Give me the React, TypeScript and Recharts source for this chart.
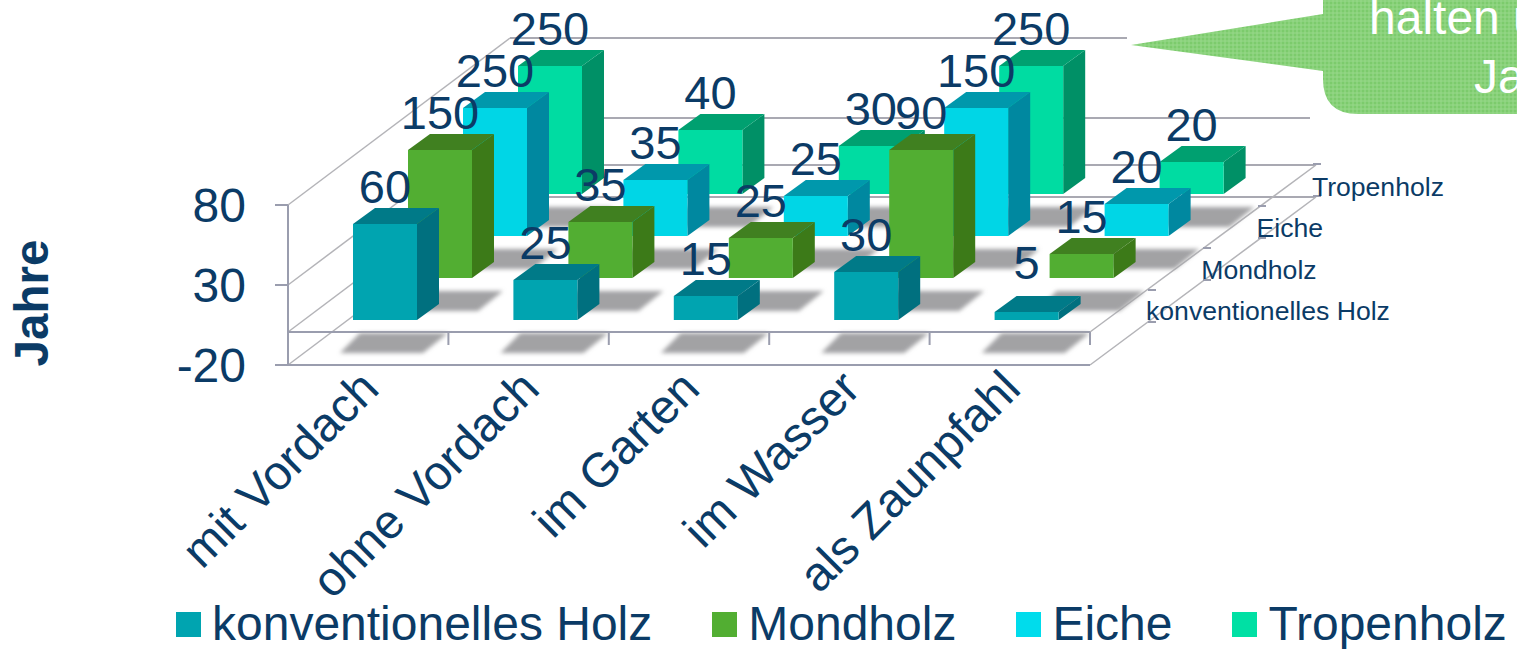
import React from "react";
import { ComposedChart, Bar, XAxis, YAxis, LabelList, Legend, Label, Customized } from "recharts";

const categories = ["mit Vordach", "ohne Vordach", "im Garten", "im Wasser", "als Zaunpfahl"];
const konventionell = [60, 25, 15, 30, 5];
const mondholz = [150, 35, 25, 90, 15];
const eiche = [250, 35, 25, 150, 20];
const tropenholz = [250, 40, 30, 250, 20];
const valueTicks = [-20, 30, 80];
const AXIS_MIN = -20;
const AXIS_MAX = 80;

const rows = categories.map((category, i) => ({
  category,
  konventionell: konventionell[i],
  mondholz: mondholz[i],
  eiche: eiche[i],
  tropenholz: tropenholz[i],
}));

const FONT = "'Liberation Sans', Arial, sans-serif";
const INK = "#0B3B66";
const AXIS = "#9A9DAE";
const THIN = "#B4B4B8";

// front-to-back depth rows
const series = [
  { key: "konventionell", name: "konventionelles Holz", dx: 17, dy: -13, face: "#00A4B0", top: "#007A88", side: "#00707F", swatch: "#00A4B0" },
  { key: "mondholz", name: "Mondholz", dx: 72, dy: -55, face: "#52AE32", top: "#408020", side: "#3C7A18", swatch: "#52AE32" },
  { key: "eiche", name: "Eiche", dx: 127, dy: -97, face: "#00D6E6", top: "#0098AC", side: "#0088A0", swatch: "#00DCEC" },
  { key: "tropenholz", name: "Tropenholz", dx: 182, dy: -139, face: "#00DCA2", top: "#00A070", side: "#009066", swatch: "#00E0A4" },
];

const L = 288, R = 1090, T = 205, B = 365, Z = 332;
const DX = 222, DY = 167;

function Block(props: any) {
  const { x, y, width, height, s } = props;
  const left = x + s.dx;
  const right = left + width;
  const topY = y + s.dy;
  const base = y + height + s.dy;
  const d = 22, e = 16;
  const shadow = [
    [left - 13, base + 33],
    [left + 70, base + 33],
    [left + 95, base + 13],
    [left + 7, base + 13],
  ].map((p) => p.join(",")).join(" ");
  return (
    <g>
      <polygon points={shadow} fill="#A2A2A4" filter="url(#soft)" />
      <polygon points={`${right},${topY} ${right + d},${topY - e} ${right + d},${base - e} ${right},${base}`} fill={s.side} />
      <polygon points={`${left},${topY} ${left + d},${topY - e} ${right + d},${topY - e} ${right},${topY}`} fill={s.top} />
      <rect x={left} y={topY} width={width} height={height} fill={s.face} />
    </g>
  );
}

function BarLabel(props: any) {
  const { x, y, width, value, s } = props;
  const lift = Number(value) <= 5 ? 50 : 38;
  return (
    <text x={x + s.dx + width / 2} y={y + s.dy - lift} dy="0.36em" textAnchor="middle" fontFamily={FONT} fontSize={47} fill={INK}>
      {value}
    </text>
  );
}

function Scene() {
  const diag = (y: number) => <line x1={L} y1={y} x2={L + DX} y2={y - DY} stroke={THIN} strokeWidth={1.5} />;
  const back = (y: number, end: number) => <line x1={L + DX} y1={y} x2={end} y2={y} stroke="#A9A9B2" strokeWidth={2} />;
  const band = (R - L) / categories.length;
  return (
    <g>
      <defs>
        <filter id="soft" x="-10%" y="-30%" width="120%" height="160%">
          <feGaussianBlur stdDeviation="2" />
        </filter>
        <pattern id="weave" width="4" height="4" patternUnits="userSpaceOnUse">
          <rect width="4" height="4" fill="#7CCB6C" />
          <path d="M0 1H4M1 0V4" stroke="#98D98B" strokeWidth="1" />
        </pattern>
      </defs>
      {diag(T)}
      {diag(285)}
      {diag(Z)}
      {diag(B)}
      {back(38, 1127)}
      {back(118, 1310)}
      {back(165, 1316)}
      {back(197, 1316)}
      <line x1={R} y1={Z} x2={R + 226} y2={165} stroke={THIN} strokeWidth={1.5} />
      <line x1={R} y1={B} x2={R + 226} y2={197} stroke={THIN} strokeWidth={1.5} />
      <line x1={L} y1={Z} x2={R} y2={Z} stroke={AXIS} strokeWidth={2} />
      {categories.concat("").map((_, i) => (
        <line key={i} x1={L + band * i} y1={Z} x2={L + band * i} y2={345} stroke={AXIS} strokeWidth={2} />
      ))}
      {series.map((s, i) => {
        const x = R + 58 + i * 55;
        return (
          <g key={s.key}>
            <line x1={x} y1={322 - i * 42} x2={x + 8} y2={322 - i * 42} stroke={AXIS} strokeWidth={2} />
            <line x1={x} y1={290 - i * 42} x2={x + 8} y2={290 - i * 42} stroke={AXIS} strokeWidth={2} />
            <text x={1146 + i * 55.3} y={320 - i * 41.3} fontFamily={FONT} fontSize={26.6} fill={INK}>
              {s.name}
            </text>
          </g>
        );
      })}
    </g>
  );
}

function Callout() {
  return (
    <g>
      <path d="M1323 -2 L1323 14 L1131 45 L1323 71 L1323 79 Q1323 114 1358 114 L1519 114 L1519 -2 Z" fill="url(#weave)" />
      <text x={1369} y={34} fontFamily={FONT} fontSize={48} fill="#FFFFFF">halten u</text>
      <text x={1474} y={93} fontFamily={FONT} fontSize={48} fill="#FFFFFF">Ja</text>
    </g>
  );
}

function CategoryTick(props: any) {
  const { x, payload } = props;
  const px = x + 13;
  const py = 391;
  return (
    <text x={px} y={py} textAnchor="end" transform={`rotate(-45 ${px} ${py})`} fontFamily={FONT} fontSize={48} fill={INK}>
      {payload.value}
    </text>
  );
}

function LegendRow() {
  return (
    <div style={{ display: "flex", gap: 60, fontFamily: FONT, fontSize: 48, color: INK, lineHeight: "48px", whiteSpace: "nowrap" }}>
      {series.map((s) => (
        <div key={s.key} style={{ display: "flex", alignItems: "center", flex: "none" }}>
          <span style={{ width: 25, height: 25, background: s.swatch, marginRight: 11, display: "inline-block" }} />
          <span>{s.name}</span>
        </div>
      ))}
    </div>
  );
}

export default function App() {
  const drawOrder = [...series].reverse();
  return (
    <div style={{ position: "absolute", left: 0, top: 0, width: 1517, height: 649, overflow: "hidden", background: "#fff" }}>
      <ComposedChart
        width={1517}
        height={649}
        data={rows}
        barSize={64}
        margin={{ top: T, bottom: 649 - B - 100, left: L - 200, right: 1517 - R }}
      >
        {series.slice(1).map((s) => (
          <XAxis key={s.key} xAxisId={s.key} dataKey="category" hide height={0} />
        ))}
        <XAxis
          xAxisId="konventionell"
          dataKey="category"
          height={100}
          interval={0}
          tickLine={false}
          axisLine={{ stroke: AXIS, strokeWidth: 2 }}
          tick={<CategoryTick />}
        />
        <YAxis
          width={200}
          domain={[AXIS_MIN, AXIS_MAX]}
          ticks={valueTicks}
          interval={0}
          tickSize={13}
          tickMargin={29}
          tick={{ fontFamily: FONT, fontSize: 48, fill: INK }}
          axisLine={{ stroke: AXIS, strokeWidth: 2 }}
          tickLine={{ stroke: AXIS, strokeWidth: 2 }}
        >
          <Label
            value="Jahre"
            position="insideLeft"
            content={() => (
              <text x={48} y={303} textAnchor="middle" transform="rotate(-90 48 303)" fontFamily={FONT} fontSize={47.5} fontWeight="bold" fill={INK}>
                Jahre
              </text>
            )}
          />
        </YAxis>
        <Customized component={Scene} />
        {drawOrder.map((s) => (
          <Bar
            key={s.key}
            xAxisId={s.key}
            name={s.name}
            dataKey={(d: any) => Math.min(d[s.key], AXIS_MAX)}
            isAnimationActive={false}
            shape={(p: any) => <Block {...p} s={s} />}
          >
            <LabelList dataKey={s.key} content={(p: any) => <BarLabel {...p} s={s} />} />
          </Bar>
        ))}
        <Customized component={Callout} />
        <Legend
          layout="horizontal"
          align="center"
          verticalAlign="middle"
          wrapperStyle={{ position: "absolute", left: 176, top: 600, width: 1341 }}
          content={<LegendRow />}
        />
      </ComposedChart>
    </div>
  );
}
